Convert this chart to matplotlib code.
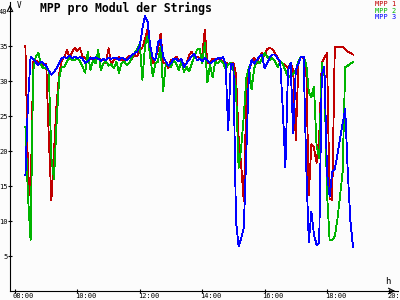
import matplotlib
matplotlib.use("Agg")
import matplotlib.pyplot as plt
import matplotlib.transforms as mtransforms
import pandas as pd

# 5-minute logger grid, 08:20 .. 18:50
times = pd.date_range("2000-01-01 08:20", "2000-01-01 18:50", freq="5min")
hours = [t.hour + t.minute / 60 for t in times]

mpp1 = [35.0, 17.0, 13.4, 32.8, 32.9, 32.7, 32.8, 32.3, 32.5, 22.0,
        13.0, 20.0, 26.8, 31.0, 33.0, 33.5, 34.4, 33.3, 34.2, 34.7,
        34.3, 34.7, 33.5, 33.3, 33.0, 33.4, 33.0, 32.9, 33.3, 33.0,
        33.1, 32.6, 34.7, 32.3, 33.0, 33.3, 33.4, 33.0, 32.9, 33.3,
        33.6, 33.2, 33.8, 33.5, 34.4, 34.8, 36.0, 37.4, 34.0, 32.5,
        33.2, 34.5, 36.8, 32.5, 32.7, 31.8, 33.0, 32.8, 33.5, 33.0,
        33.0, 32.3, 32.5, 33.8, 34.2, 33.5, 33.5, 33.3, 33.6, 37.3,
        32.5, 32.7, 33.2, 33.0, 33.2, 33.0, 32.8, 32.6, 32.5, 32.4,
        32.6, 31.0, 22.0, 18.0, 12.8, 28.0, 31.5, 32.8, 33.3, 32.5,
        33.5, 34.0, 33.6, 34.6, 34.7, 34.6, 34.0, 33.3, 32.6, 32.5,
        32.3, 31.8, 32.6, 31.5, 21.5, 32.5, 33.5, 33.2, 32.3, 13.7,
        21.0, 20.5, 18.3, 22.0, 32.6, 33.3, 34.0, 13.2, 13.0, 34.9,
        34.9, 34.9, 34.9, 34.5, 34.2, 34.0, 33.8]

mpp2 = [23.5, 13.5, 7.3, 31.5, 33.5, 34.0, 32.3, 31.8, 31.9, 31.5,
        19.0, 16.0, 24.0, 30.5, 32.0, 32.0, 32.8, 33.3, 33.0, 33.0,
        33.3, 32.8, 32.0, 31.2, 34.2, 31.6, 33.0, 32.5, 34.4, 31.6,
        32.5, 32.8, 32.2, 32.4, 31.8, 32.8, 31.2, 32.6, 32.8, 32.3,
        32.6, 33.4, 34.0, 34.6, 35.4, 30.2, 35.0, 36.5, 33.5, 30.7,
        32.5, 32.8, 35.0, 28.6, 32.5, 32.3, 32.0, 33.0, 32.5, 31.6,
        32.8, 31.3, 32.0, 31.4, 32.5, 33.5, 34.5, 34.6, 32.6, 35.4,
        29.8, 32.3, 30.5, 32.8, 32.5, 33.0, 32.6, 31.8, 32.3, 32.6,
        31.5, 29.0, 17.6, 20.5, 25.0, 30.5, 32.0, 28.8, 31.8, 33.0,
        32.5, 33.3, 34.0, 33.5, 33.0, 33.3, 32.8, 32.0, 32.8, 32.5,
        31.5, 30.6, 30.7, 31.0, 31.5, 32.8, 33.5, 33.4, 32.5, 28.5,
        27.7, 29.2, 20.7, 19.0, 32.6, 31.0, 14.0, 7.3, 7.3, 7.8,
        10.2, 13.5, 17.0, 32.0, 32.2, 32.5, 32.7]

mpp3 = [16.5, 27.0, 33.5, 33.2, 32.7, 32.3, 32.8, 32.5, 32.2, 31.5,
        30.9, 31.3, 31.8, 32.6, 33.3, 33.4, 33.3, 33.6, 33.3, 33.5,
        33.3, 33.4, 33.2, 32.6, 32.8, 33.3, 33.2, 33.4, 33.2, 32.9,
        33.2, 33.0, 33.3, 33.2, 33.3, 33.3, 33.0, 33.3, 33.2, 33.0,
        33.4, 33.7, 34.0, 34.2, 35.0, 37.5, 39.3, 38.5, 35.0, 33.3,
        33.0, 35.5, 35.9, 33.5, 32.8, 32.2, 32.6, 33.2, 33.2, 32.8,
        33.2, 32.0, 32.6, 33.0, 33.6, 33.9, 33.0, 33.2, 32.8, 33.3,
        33.0, 32.5, 32.8, 33.0, 33.3, 33.2, 33.4, 32.5, 23.0, 32.4,
        32.5, 10.0, 6.4, 7.5, 9.0, 20.0, 31.5, 33.0, 32.5, 33.0,
        33.5, 33.8, 31.8, 32.5, 33.4, 33.8, 33.8, 33.2, 32.8, 26.0,
        17.7, 31.5, 32.6, 22.6, 31.6, 32.5, 33.5, 33.5, 18.0, 7.0,
        11.3, 8.0, 6.6, 6.8, 31.0, 32.0, 17.0, 13.5, 17.0, 17.4,
        19.5, 21.7, 23.9, 26.0, 17.0, 10.0, 6.3]

series = [("MPP 1", mpp1, "#c00000"),
          ("MPP 2", mpp2, "#00b400"),
          ("MPP 3", mpp3, "#0000ff")]

xticks = [8, 10, 12, 14, 16, 18, 20]
xlabels = ["08:00", "10:00", "12:00", "14:00", "16:00", "18:00", "20:00"]
yticks = [5, 10, 15, 20, 25, 30, 35, 40]

mono = "DejaVu Sans Mono"

fig = plt.figure(figsize=(4, 3), dpi=100, facecolor="#fcfcfc")
ax = fig.add_axes([0.025, 0.03, 0.97, 0.9633])
ax.set_facecolor("#fcfcfc")

for name, vals, col in series:
    ax.plot(hours, vals, color=col, lw=0.6, antialiased=False)

ax.set_xlim(7.84, 20.276)
ax.set_ylim(0, 41.3)

for s in ["top", "right"]:
    ax.spines[s].set_visible(False)
for s in ["left", "bottom"]:
    ax.spines[s].set_linewidth(0.8)

ax.set_xticks(xticks)
ax.set_xticklabels(xlabels, fontsize=5, family=mono, ha="left")
ax.set_yticks(yticks)
ax.set_yticklabels([str(v) for v in yticks], fontsize=5, family=mono)
ax.tick_params(axis="both", direction="inout", length=3.5, width=0.8, pad=0)

# shift x labels a bit to the left of their ticks
shift = mtransforms.ScaledTranslation(-2 / 100, 0, fig.dpi_scale_trans)
for lab in ax.get_xticklabels():
    lab.set_transform(lab.get_transform() + shift)

# axis arrows
ax.annotate("", xy=(1.0, 0), xytext=(0.97, 0), xycoords="axes fraction",
            arrowprops=dict(arrowstyle="->", lw=0.8, color="black"),
            annotation_clip=False)
ax.annotate("", xy=(0, 1.0), xytext=(0, 0.97), xycoords="axes fraction",
            arrowprops=dict(arrowstyle="->", lw=0.8, color="black"),
            annotation_clip=False)

fig.text(17 / 400, 1 - 1 / 300, "V", fontsize=5.5, family=mono, va="top")
fig.text(385 / 400, 1 - 277 / 300, "h", fontsize=6.5, family=mono, va="top")

fig.text(40 / 400, 1 - 2 / 300, "MPP pro Modul der Strings", fontsize=8.3,
         family=mono, weight="bold", va="top")

for k, (name, vals, col) in enumerate(series):
    fig.text(396 / 400, 1 - (1 + 6.6 * k) / 300, name, fontsize=5,
             family=mono, color=col, ha="right", va="top")

fig.savefig("out.png", dpi=100, facecolor=fig.get_facecolor())
